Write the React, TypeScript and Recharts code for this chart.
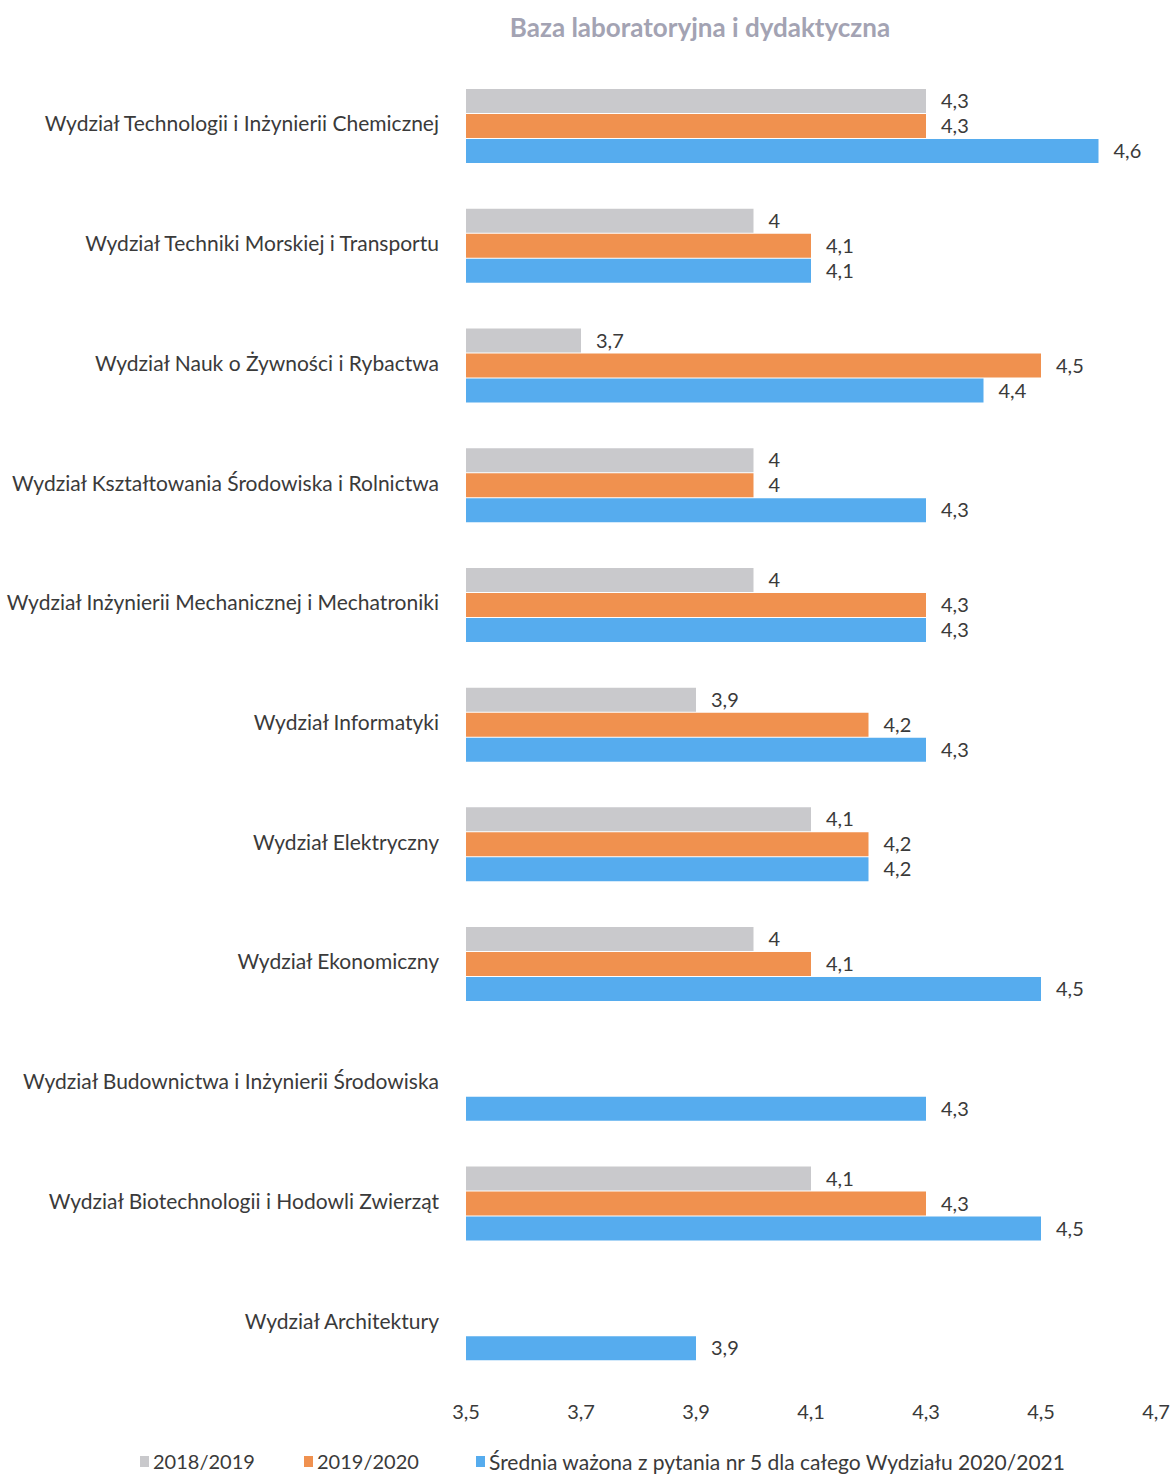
import { Bar, BarChart, LabelList, XAxis, YAxis } from "recharts";

const CATEGORIES = [
  "Wydział Technologii i Inżynierii Chemicznej",
  "Wydział Techniki Morskiej i Transportu",
  "Wydział Nauk o Żywności i Rybactwa",
  "Wydział Kształtowania Środowiska i Rolnictwa",
  "Wydział Inżynierii Mechanicznej i Mechatroniki",
  "Wydział Informatyki",
  "Wydział Elektryczny",
  "Wydział Ekonomiczny",
  "Wydział Budownictwa i Inżynierii Środowiska",
  "Wydział Biotechnologii i Hodowli Zwierząt",
  "Wydział Architektury",
];

const Y2018: (number | null)[] = [4.3, 4, 3.7, 4, 4, 3.9, 4.1, 4, null, 4.1, null];
const Y2019: (number | null)[] = [4.3, 4.1, 4.5, 4, 4.3, 4.2, 4.2, 4.1, null, 4.3, null];
const AVG2020: number[] = [4.6, 4.1, 4.4, 4.3, 4.3, 4.3, 4.2, 4.5, 4.3, 4.5, 3.9];

const X_TICKS = [3.5, 3.7, 3.9, 4.1, 4.3, 4.5, 4.7];

const SERIES = [
  { key: "y2018", name: "2018/2019", color: "#c9c9cc" },
  { key: "y2019", name: "2019/2020", color: "#f0914f" },
  { key: "avg", name: "Średnia ważona z pytania nr 5 dla całego Wydziału 2020/2021", color: "#56acee" },
];

// legend marker x positions (px)
const LEGEND_X = [140, 304, 476];

const FONT = "Lato, 'Open Sans', sans-serif";
const TEXT = "#3a3a3a";

const data = CATEGORIES.map((name, i) => ({
  name,
  y2018: Y2018[i],
  y2019: Y2019[i],
  avg: AVG2020[i],
}));

const fmt = (v: unknown) => (v == null ? "" : String(v).replace(".", ","));

export default function App() {
  return (
    <div style={{ position: "absolute", left: 0, top: 0, width: 1174, height: 1475, background: "#fff" }}>
      <div
        style={{
          position: "absolute",
          top: 11,
          left: 0,
          width: 1400,
          textAlign: "center",
          fontFamily: FONT,
          fontWeight: 700,
          fontSize: 26,
          color: "#a3a3b3",
        }}
      >
        Baza laboratoryjna i dydaktyczna
      </div>
      <BarChart
        layout="vertical"
        width={1174}
        height={1475}
        data={data}
        margin={{ top: 66, right: 18, bottom: 52, left: 0 }}
        barSize={24}
        barGap={1}
      >
        <XAxis
          type="number"
          domain={[3.5, 4.7]}
          ticks={X_TICKS}
          axisLine={false}
          tickLine={false}
          tickFormatter={fmt}
          tick={{ fontSize: 20, fill: TEXT, fontFamily: FONT }}
          tickMargin={16}
          height={40}
          interval={0}
        />
        <YAxis
          type="category"
          dataKey="name"
          width={466}
          axisLine={false}
          tickLine={false}
          tickMargin={21}
          tick={{ fontSize: 21, fill: TEXT, fontFamily: FONT, dy: -2 }}
          interval={0}
        />
        {SERIES.map((s) => (
          <Bar key={s.key} dataKey={s.key} name={s.name} fill={s.color} isAnimationActive={false}>
            <LabelList
              dataKey={s.key}
              position="right"
              offset={15}
              formatter={fmt}
              style={{ fontSize: 20, fill: TEXT, fontFamily: FONT }}
            />
          </Bar>
        ))}
      </BarChart>
      {SERIES.map((s, i) => (
        <div
          key={s.key}
          style={{
            position: "absolute",
            top: 1449,
            left: LEGEND_X[i],
            display: "flex",
            alignItems: "center",
            fontFamily: FONT,
            fontSize: i === 2 ? 21 : 20,
            color: TEXT,
            whiteSpace: "nowrap",
          }}
        >
          <span style={{ width: 9, height: 11, background: s.color, marginRight: 4, display: "inline-block" }} />
          <span>{s.name}</span>
        </div>
      ))}
    </div>
  );
}
